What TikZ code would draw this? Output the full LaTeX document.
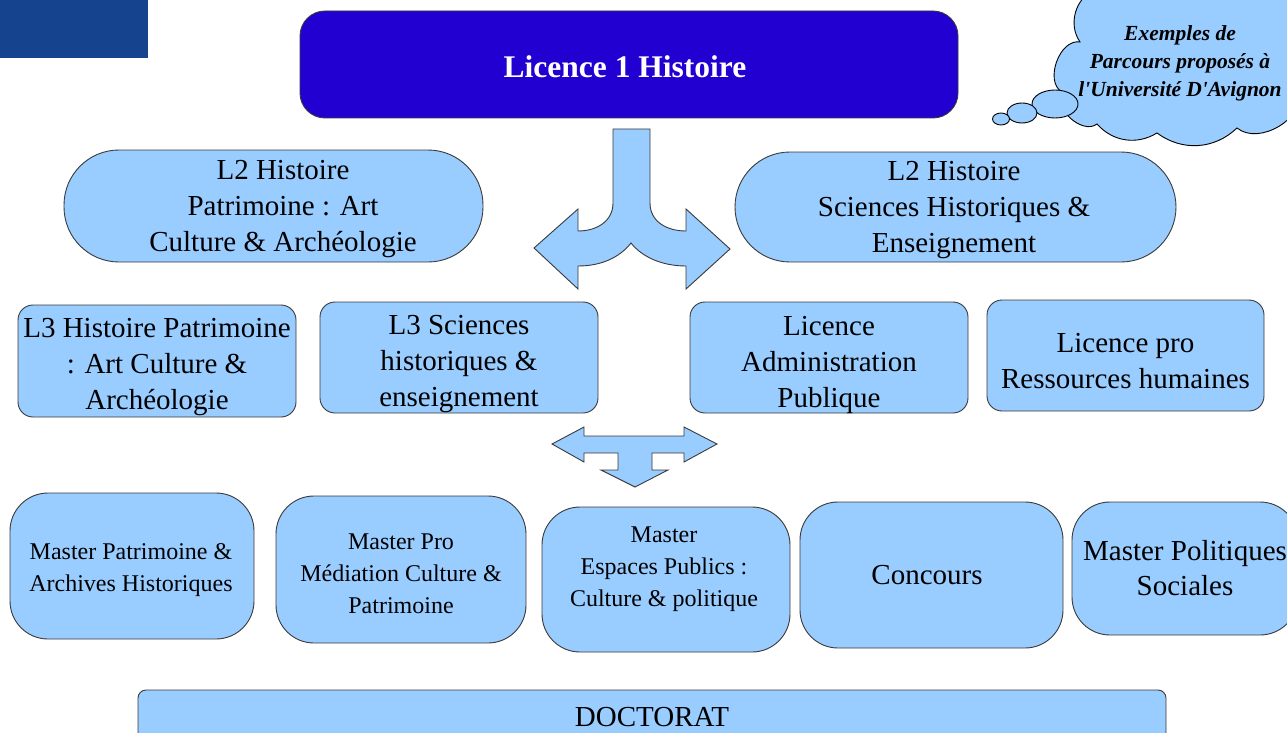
\documentclass[tikz,border=0pt]{standalone}
\usepackage{fontspec}
\setmainfont{Liberation Serif}
\definecolor{lb}{HTML}{99CCFF}
\definecolor{dkblue}{HTML}{2200D2}
\definecolor{corner}{HTML}{16438D}
\definecolor{edge}{HTML}{3A3A3A}
\begin{document}
\begin{tikzpicture}[x=1pt,y=-1pt,
  box/.style={draw=edge, line width=0.9pt, fill=lb, rounded corners=#1, inner sep=0pt},
  box/.default=15pt,
  txt/.style={align=center, inner sep=0pt},
  big/.style={font=\fontsize{29}{36}\selectfont},
  mid/.style={font=\fontsize{24}{32}\selectfont},
  shapeline/.style={draw=edge, line width=0.9pt, fill=lb, line join=miter}]
\useasboundingbox (0,0) rectangle (1287,733);
\clip (0,0) rectangle (1287,733);

% corner block
\fill[corner] (0,0) rectangle (148,58);

% Licence 1
\node[box=25pt, fill=dkblue, minimum width=658pt, minimum height=107pt] (lic1) at (629,64.5) {};
\node[txt, text=white, font=\bfseries\fontsize{31.5}{36}\selectfont] (lic1t) at (625,67) {Licence 1 Histoire};

% cloud
\path[draw=black, line width=0.9pt, fill=lb]
  (1094,-10) to[bend right=50] (1080,42) to[bend right=80] (1062,92)
  to[bend right=80] (1097,124) to[bend right=40] (1157,133)
  to[bend right=40] (1237,128) to[bend right=70] (1300,90) -- (1300,-10) -- cycle;
\draw[line width=0.9pt, fill=lb] (1055,104) ellipse [x radius=23pt, y radius=14pt];
\draw[line width=0.9pt, fill=lb] (1022,113) ellipse [x radius=15pt, y radius=10pt];
\draw[line width=0.9pt, fill=lb] (1001,119) ellipse [x radius=8.5pt, y radius=6pt];
\node[txt, font=\bfseries\itshape\fontsize{21.5}{28}\selectfont] (cloudt) at (1180,63)
  {Exemples de\\Parcours proposés à\\l\textquotesingle Université D\textquotesingle Avignon};

% L2 row
\node[box=55pt, minimum width=419pt, minimum height=112pt] (l2a) at (273.5,206) {};
\node[txt, big] (l2at) at (283,209.5) {L2 Histoire\\Patrimoine : Art\\Culture \& Archéologie};
\node[box=55pt, minimum width=441pt, minimum height=110pt] (l2b) at (955.5,207) {};
\node[txt, big] (l2bt) at (954,210.5) {L2 Histoire\\Sciences Historiques \&\\Enseignement};

% split arrow
\path[shapeline] (613,129) -- (613,203) .. controls (613,221) and (597,231) .. (578,231)
  -- (578,209) -- (534,248) -- (578,289) -- (578,266)
  .. controls (602,266) and (620,257) .. (631,243)
  .. controls (642,257) and (662,266) .. (686,266)
  -- (686,289) -- (730,249) -- (686,209) -- (686,231)
  .. controls (666,231) and (650,221) .. (650,203) -- (650,129) -- cycle;

% L3 row
\node[box, minimum width=278pt, minimum height=112pt] (l3a) at (157,361) {};
\node[txt, big] (l3at) at (157,367.5) {L3 Histoire Patrimoine\\: Art Culture \&\\Archéologie};
\node[box, minimum width=278pt, minimum height=111pt] (l3b) at (459,357.5) {};
\node[txt, big] (l3bt) at (459,364.5) {L3 Sciences\\historiques \&\\enseignement};
\node[box, minimum width=278pt, minimum height=111pt] (l3c) at (829,357.5) {};
\node[txt, big] (l3ct) at (829,364.5) {Licence\\Administration\\Publique};
\node[box, minimum width=277pt, minimum height=111pt] (l3d) at (1125.5,355.5) {};
\node[txt, big] (l3dt) at (1125.5,361) {Licence pro\\Ressources humaines};

% T arrow
\path[shapeline] (552,444) -- (584,427) -- (584,436) -- (684,436) -- (684,427) -- (717,444)
  -- (684,462) -- (684,453) -- (652,453) -- (652,470) -- (668,470) -- (635,487)
  -- (601,470) -- (618,470) -- (618,453) -- (584,453) -- (584,462) -- cycle;

% Master row
\node[box=38pt, minimum width=244pt, minimum height=146pt] (m1) at (132,566) {};
\node[txt, mid] (m1t) at (131,570) {Master Patrimoine \&\\Archives Historiques};
\node[box=38pt, minimum width=250pt, minimum height=147pt] (m2) at (401,569.5) {};
\node[txt, mid] (m2t) at (401,573.5) {Master Pro\\Médiation Culture \&\\Patrimoine};
\node[box=38pt, minimum width=248pt, minimum height=145pt] (m3) at (666,579.5) {};
\node[txt, mid] (m3t) at (664,569.5) {Master\\Espaces Publics :\\Culture \& politique};
\node[box=38pt, minimum width=263pt, minimum height=146pt] (m4) at (931.5,575) {};
\node[txt, big] (m4t) at (927,575) {Concours};
\node[box=38pt, minimum width=226pt, minimum height=133pt] (m5) at (1185,568.5) {};
\node[txt, font=\fontsize{29}{35}\selectfont] (m5t) at (1185,568.5) {Master Politiques\\Sociales};

% Doctorat
\node[box=8pt, minimum width=1028pt, minimum height=60pt] (doc) at (652,720) {};
\node[txt, big] (doct) at (652,717) {DOCTORAT};
\end{tikzpicture}
\end{document}
